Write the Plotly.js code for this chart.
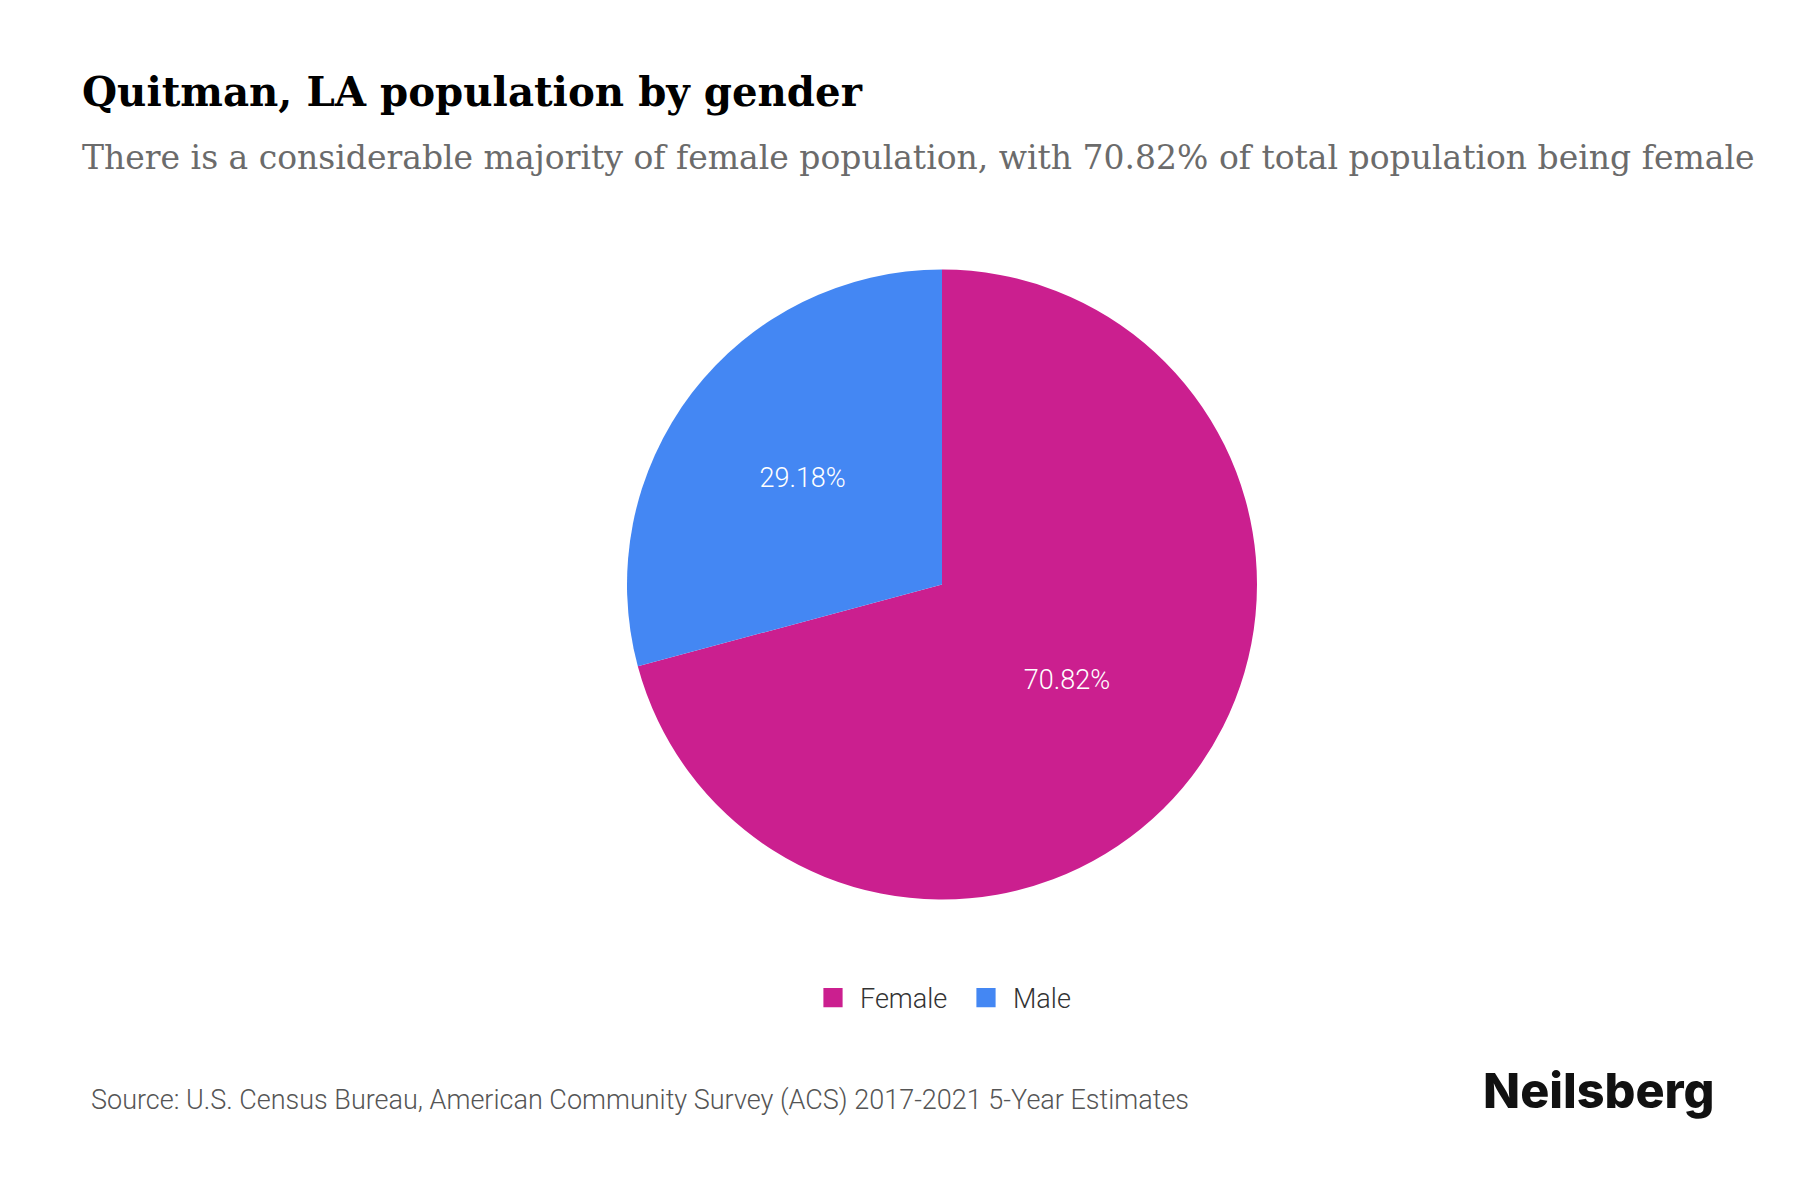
<!DOCTYPE html>
<html>
<head>
<meta charset="utf-8">
<script src="https://cdn.plot.ly/plotly-3.0.1.min.js"></script>
<style>
html,body{margin:0;padding:0;background:#fff;}
#chart{width:1800px;height:1200px;}
</style>
</head>
<body>
<div id="chart"></div>
<script>
const categories = ["Female", "Male"];
const shares = [70.82, 29.18];
const sliceColors = ["#CB1F8F", "#4487F3"];
const titleText = "Quitman, LA population by gender";
const subtitleText = "There is a considerable majority of female population, with 70.82% of total population being female";
const sourceText = "Source: U.S. Census Bureau, American Community Survey (ACS) 2017-2021 5-Year Estimates";
const brandText = "Neilsberg";

const W = 1800, H = 1200;
const cx = 942, cy = 584.5, r = 315;

const trace = {
  type: "pie",
  labels: categories,
  values: shares,
  sort: false,
  direction: "clockwise",
  rotation: 0,
  marker: {colors: sliceColors, line: {width: 0}},
  texttemplate: "%{value:.2f}%",
  textposition: "inside",
  insidetextorientation: "horizontal",
  textfont: {family: "Roboto", size: 27, color: "#ffffff", weight: 300},
  hoverinfo: "none",
  domain: {x: [(cx - r) / W, (cx + r) / W], y: [1 - (cy + r) / H, 1 - (cy - r) / H]}
};

const layout = {
  width: W, height: H,
  margin: {l: 0, r: 0, t: 0, b: 0},
  paper_bgcolor: "#ffffff",
  showlegend: true,
  legend: {
    orientation: "h", x: 0.5 + 59 / W, xanchor: "center", y: 1 - 998 / H, yanchor: "middle",
    font: {family: "Roboto", size: 27, color: "#333333", weight: 300},
    itemwidth: 44, entrywidth: 94, entrywidthmode: "pixels",
    traceorder: "normal"
  },
  annotations: [
    {text: titleText, xref: "paper", yref: "paper", x: 80 / W, y: 1 - 92 / H, xanchor: "left", yanchor: "middle", showarrow: false,
     font: {family: "DejaVu Serif", size: 40.3, color: "#000000", weight: 700}},
    {text: subtitleText, xref: "paper", yref: "paper", x: 80 / W, y: 1 - 158 / H, xanchor: "left", yanchor: "middle", showarrow: false,
     font: {family: "DejaVu Serif", size: 33, color: "#6b6b6b"}},
    {text: sourceText, xref: "paper", yref: "paper", x: 89 / W, y: 1 - 1100 / H, xanchor: "left", yanchor: "middle", showarrow: false,
     font: {family: "Roboto", size: 27, color: "#555555", weight: 300}},
    {text: brandText, xref: "paper", yref: "paper", x: 1717 / W, y: 1 - 1090 / H, xanchor: "right", yanchor: "middle", showarrow: false,
     font: {family: "Inter", size: 48.5, color: "#111111", weight: 800}}
  ]
};

Plotly.newPlot("chart", [trace], layout, {staticPlot: true, displayModeBar: false}).then(function (gd) {
  gd.querySelectorAll(".legend .legendpoints path").forEach(function (p) {
    const t = p.getAttribute("transform") || "";
    p.setAttribute("transform", t + " scale(1.6)");
  });
});
</script>
</body>
</html>
